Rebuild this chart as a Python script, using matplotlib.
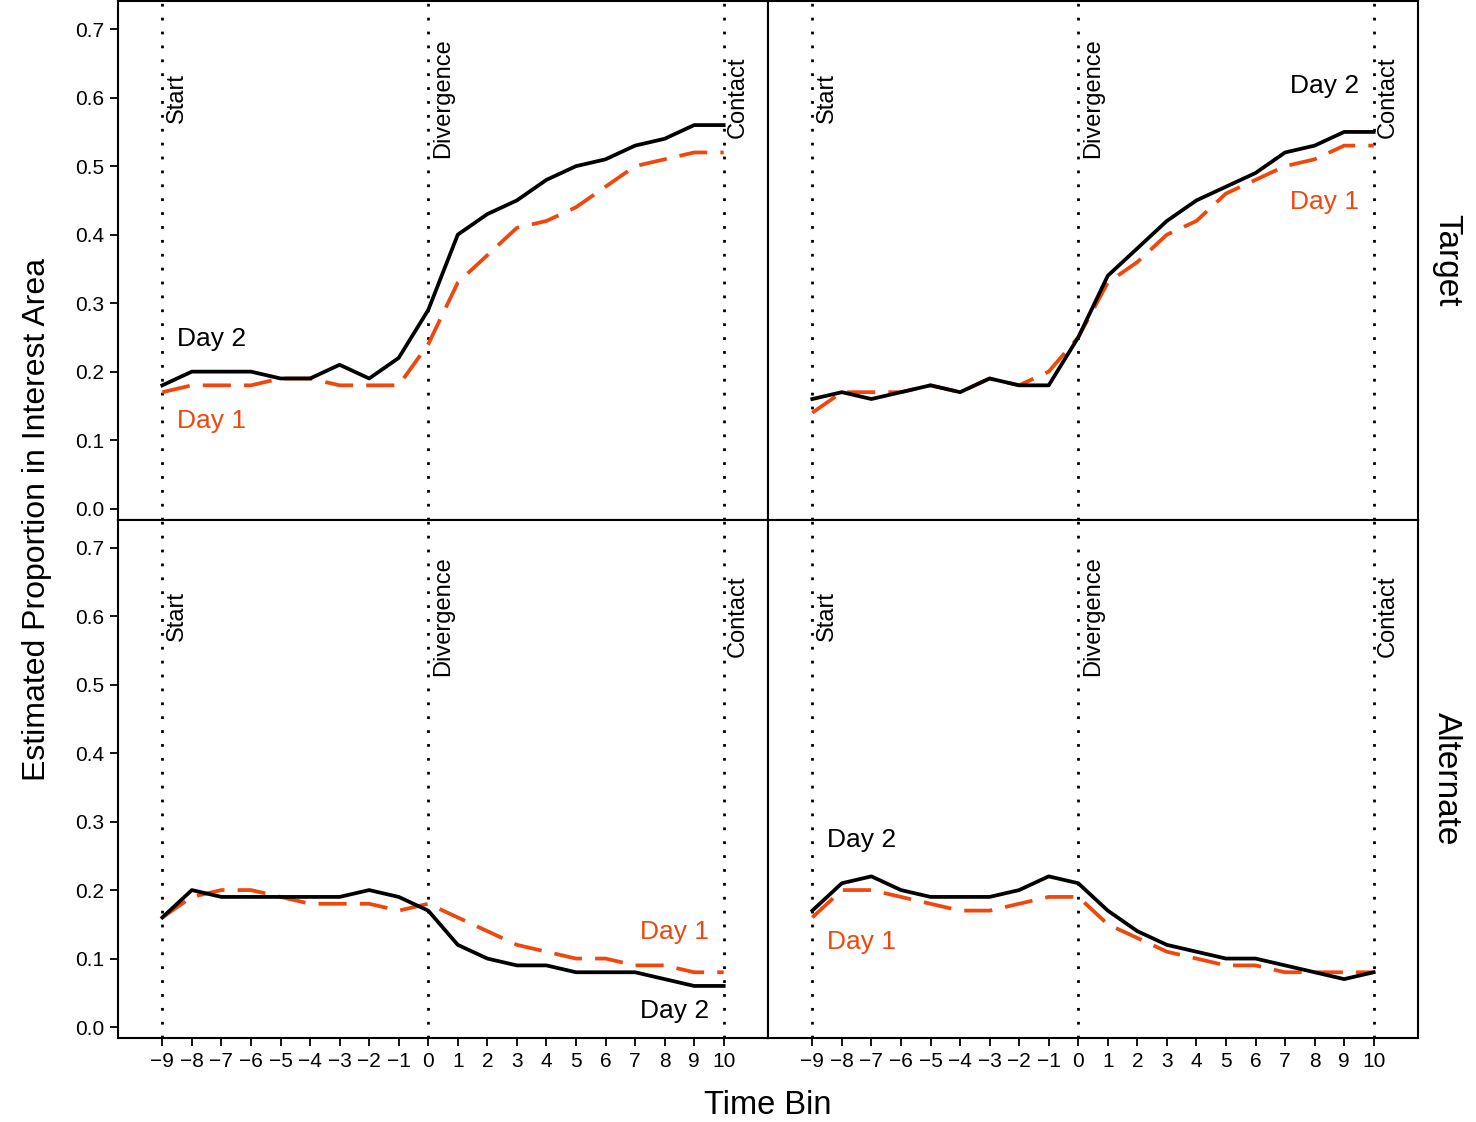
import matplotlib
matplotlib.use('Agg')
import matplotlib.pyplot as plt

plt.rcParams['font.family'] = ['Liberation Sans', 'DejaVu Sans']
plt.rcParams['axes.unicode_minus'] = True

time_bins = list(range(-9, 11))

# Target panel (top row)
target_left_day2 = [0.18, 0.20, 0.20, 0.20, 0.19, 0.19, 0.21, 0.19, 0.22, 0.29,
                    0.40, 0.43, 0.45, 0.48, 0.50, 0.51, 0.53, 0.54, 0.56, 0.56]
target_left_day1 = [0.17, 0.18, 0.18, 0.18, 0.19, 0.19, 0.18, 0.18, 0.18, 0.24,
                    0.33, 0.37, 0.41, 0.42, 0.44, 0.47, 0.50, 0.51, 0.52, 0.52]
target_right_day2 = [0.16, 0.17, 0.16, 0.17, 0.18, 0.17, 0.19, 0.18, 0.18, 0.25,
                     0.34, 0.38, 0.42, 0.45, 0.47, 0.49, 0.52, 0.53, 0.55, 0.55]
target_right_day1 = [0.14, 0.17, 0.17, 0.17, 0.18, 0.17, 0.19, 0.18, 0.20, 0.25,
                     0.33, 0.36, 0.40, 0.42, 0.46, 0.48, 0.50, 0.51, 0.53, 0.53]

# Alternate panel (bottom row)
alt_left_day2 = [0.16, 0.20, 0.19, 0.19, 0.19, 0.19, 0.19, 0.20, 0.19, 0.17,
                 0.12, 0.10, 0.09, 0.09, 0.08, 0.08, 0.08, 0.07, 0.06, 0.06]
alt_left_day1 = [0.16, 0.19, 0.20, 0.20, 0.19, 0.18, 0.18, 0.18, 0.17, 0.18,
                 0.16, 0.14, 0.12, 0.11, 0.10, 0.10, 0.09, 0.09, 0.08, 0.08]
alt_right_day2 = [0.17, 0.21, 0.22, 0.20, 0.19, 0.19, 0.19, 0.20, 0.22, 0.21,
                  0.17, 0.14, 0.12, 0.11, 0.10, 0.10, 0.09, 0.08, 0.07, 0.08]
alt_right_day1 = [0.16, 0.20, 0.20, 0.19, 0.18, 0.17, 0.17, 0.18, 0.19, 0.19,
                  0.15, 0.13, 0.11, 0.10, 0.09, 0.09, 0.08, 0.08, 0.08, 0.08]

events = [(-9, 'Start'), (0, 'Divergence'), (10, 'Contact')]
row_labels = ['Target', 'Alternate']

# label positions: (x, y, ha) for Day 2 and Day 1 in each panel
day_labels = {
    (0, 0): [(-8.5, 0.248, 'left'), (-8.5, 0.128, 'left')],
    (0, 1): [(9.5, 0.617, 'right'), (9.5, 0.448, 'right')],
    (1, 0): [(9.5, 0.023, 'right'), (9.5, 0.139, 'right')],
    (1, 1): [(-8.5, 0.273, 'left'), (-8.5, 0.124, 'left')],
}

ORANGE = '#F0470C'

series = {
    (0, 0): (target_left_day2, target_left_day1),
    (0, 1): (target_right_day2, target_right_day1),
    (1, 0): (alt_left_day2, alt_left_day1),
    (1, 1): (alt_right_day2, alt_right_day1),
}

fig, axes = plt.subplots(2, 2, figsize=(14.76, 11.22), dpi=100, sharex=True, sharey=True)
fig.subplots_adjust(left=118 / 1476, right=1418 / 1476, top=0.999, bottom=1 - 1038 / 1122,
                    hspace=0, wspace=0)

for (r, c), (day2, day1) in series.items():
    ax = axes[r, c]
    for xv, name in events:
        ax.axvline(xv, color='black', lw=2, linestyle=(0, (1, 4)), zorder=1)
        ax.text(xv + 0.12, 0.60, name, rotation=90, ha='left', va='center', fontsize=17)
    ax.plot(time_bins, day1, color=ORANGE, lw=2.7, dashes=(7.5, 3.5), zorder=2)
    ax.plot(time_bins, day2, color='black', lw=2.7, zorder=3)
    (x2, y2, ha2), (x1, y1, ha1) = day_labels[(r, c)]
    ax.text(x2, y2, 'Day 2', ha=ha2, va='center', fontsize=19, color='black')
    ax.text(x1, y1, 'Day 1', ha=ha1, va='center', fontsize=19, color=ORANGE)

    ax.set_xlim(-10.5, 11.5)
    ax.set_ylim(-0.016, 0.741)
    ax.set_xticks(time_bins)
    ax.set_yticks([0.0, 0.1, 0.2, 0.3, 0.4, 0.5, 0.6, 0.7])
    ax.set_yticklabels(['0.0', '0.1', '0.2', '0.3', '0.4', '0.5', '0.6', '0.7'])
    ax.tick_params(direction='out', length=6, width=1.3, labelsize=15, pad=4,
                   labelbottom=(r == 1), labelleft=(c == 0),
                   bottom=(r == 1), left=(c == 0))
    for sp in ax.spines.values():
        sp.set_linewidth(1.5)
    if c == 1:
        ax.text(1.02, 0.5, row_labels[r], rotation=-90, ha='left', va='center',
                transform=ax.transAxes, fontsize=24)

fig.text(37 / 1476, 1 - 519 / 1122, 'Estimated Proportion in Interest Area', rotation=90,
         ha='center', va='center', fontsize=23)
fig.text(768 / 1476, 1 - 1105 / 1122, 'Time Bin', ha='center', va='center', fontsize=23.5)

fig.savefig('out.png', dpi=100)
